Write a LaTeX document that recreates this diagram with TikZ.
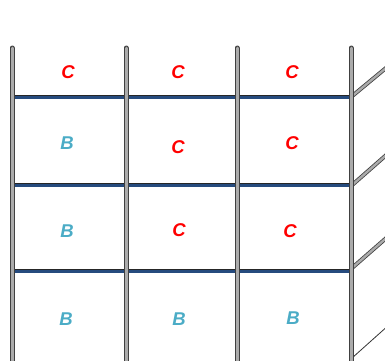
\documentclass[tikz,border=0pt]{standalone}
\usepackage{fontspec}
\setmainfont{Liberation Sans}
\definecolor{beamblue}{HTML}{264B7E}
\definecolor{postgray}{HTML}{ABABAB}
\definecolor{lblred}{HTML}{FF0000}
\definecolor{lblcyan}{HTML}{4BACC6}
\tikzset{
  post/.style={line width=5pt, draw=black!75, line cap=round},
  postin/.style={line width=3pt, draw=postgray, line cap=round},
  beam/.style={line width=4.5pt, draw=black!85},
  beamin/.style={line width=3pt, draw=beamblue},
  brace/.style={line width=4pt, draw=black!75},
  bracein/.style={line width=2.4pt, draw=postgray},
  lbl/.style={font=\fontsize{18.5pt}{20pt}\selectfont\bfseries\itshape, inner sep=0pt},
  cl/.style={lbl, text=lblred},
  bl/.style={lbl, text=lblcyan}
}
\begin{document}
\begin{tikzpicture}[x=1pt,y=-1pt]
\useasboundingbox (0,0) rectangle (385,360);
\clip (0,0) rectangle (385,360);
% beams
\foreach \y in {97,185,271} {
  \draw[beam] (12,\y) -- (351,\y);
  \draw[beamin] (12,\y) -- (351,\y);
}
% braces on the right post
\draw[brace] (351,97) -- (392,63);
\draw[bracein] (351,97) -- (392,63);
\draw[brace] (351,186) -- (392,150);
\draw[bracein] (351,186) -- (392,150);
\draw[brace] (352,268) -- (392,233);
\draw[bracein] (352,268) -- (392,233);
\draw[black!80, line width=0.8pt] (352,358) -- (390,324);
% posts
\foreach \x in {12,126,237,351} {
  \draw[post] (\x,48) -- (\x,370);
  \draw[postin] (\x,48) -- (\x,370);
}
% labels
\node[cl] (c11) at (68,72) {C};
\node[cl] (c12) at (178,72) {C};
\node[cl] (c13) at (292,72) {C};
\node[bl] (b21) at (67,143) {B};
\node[cl] (c22) at (178,147) {C};
\node[cl] (c23) at (292,143) {C};
\node[bl] (b31) at (67,231) {B};
\node[cl] (c32) at (179,230) {C};
\node[cl] (c33) at (290,231) {C};
\node[bl] (b41) at (66,319) {B};
\node[bl] (b42) at (179,319) {B};
\node[bl] (b43) at (293,318) {B};
\end{tikzpicture}
\end{document}
